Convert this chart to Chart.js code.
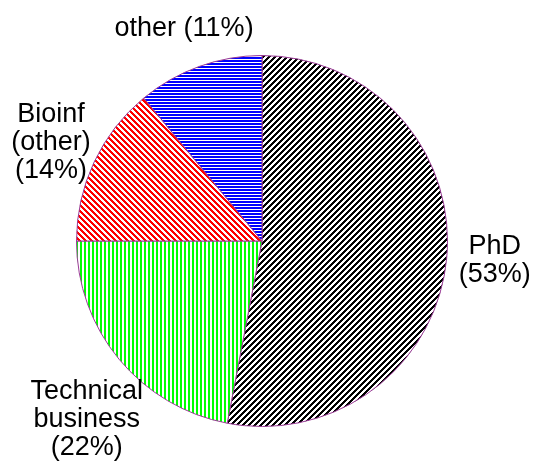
<!DOCTYPE html>
<html>
<head>
<meta charset="utf-8">
<script src="https://cdn.jsdelivr.net/npm/chart.js@4/dist/chart.umd.min.js"></script>
<style>
  html, body { margin: 0; padding: 0; background: #fff; }
  canvas { display: block; }
</style>
</head>
<body>
<canvas id="pie" width="533" height="461"></canvas>
<script>
const categories = ["PhD", "Technical business", "Bioinf (other)", "other"];
const shares = [53, 22, 14, 11];
const labelLines = [
  ["PhD", "(53%)"],
  ["Technical", "business", "(22%)"],
  ["Bioinf", "(other)", "(14%)"],
  ["other (11%)"],
];

// label anchor relative to pie centre, in units of the radius (first baseline)
const labelPlace = [
  { dx: 1.255, dy: 0.068 },
  { dx: -0.945, dy: 0.853 },
  { dx: -1.138, dy: -0.64 },
  { dx: -0.42, dy: -1.104 },
];

function stripes(color, size, test) {
  const c = document.createElement("canvas");
  c.width = size;
  c.height = size;
  const g = c.getContext("2d");
  g.fillStyle = "#fff";
  g.fillRect(0, 0, size, size);
  g.fillStyle = color;
  for (let y = 0; y < size; y++) {
    for (let x = 0; x < size; x++) {
      if (test(x, y)) g.fillRect(x, y, 1, 1);
    }
  }
  return g.createPattern(c, "repeat");
}

const fills = [
  stripes("#000", 6, (x, y) => (x + y) % 6 < 3),
  stripes("#00ff00", 4, (x) => x % 4 < 2),
  stripes("#ff0000", 6, (x, y) => (x - y + 60) % 6 < 3),
  stripes("#0000ff", 3, (x, y) => y % 3 < 2),
];

const outsideLabels = {
  id: "outsideLabels",
  afterDraw(chart) {
    const arcs = chart.getDatasetMeta(0).data;
    if (!arcs.length) return;
    const { x, y, outerRadius } = arcs[0].getProps(["x", "y", "outerRadius"], true);
    const ctx = chart.ctx;
    ctx.save();
    ctx.fillStyle = "#000";
    ctx.font = "27px 'Liberation Sans', Arial, sans-serif";
    ctx.textAlign = "center";
    ctx.textBaseline = "alphabetic";
    labelLines.forEach((lines, i) => {
      const px = x + labelPlace[i].dx * outerRadius;
      const py = y + labelPlace[i].dy * outerRadius;
      lines.forEach((line, k) => ctx.fillText(line, px, py + k * 28));
    });
    ctx.restore();
  },
};

new Chart(document.getElementById("pie").getContext("2d"), {
  type: "pie",
  data: {
    labels: categories,
    datasets: [
      {
        data: shares,
        backgroundColor: fills,
        borderColor: "#9a3a96",
        borderWidth: 1,
      },
    ],
  },
  options: {
    responsive: false,
    animation: false,
    layout: { padding: { left: 76, top: 55, right: 85, bottom: 34 } },
    plugins: {
      legend: { display: false },
      tooltip: { enabled: false },
    },
  },
  plugins: [outsideLabels],
});
</script>
</body>
</html>
